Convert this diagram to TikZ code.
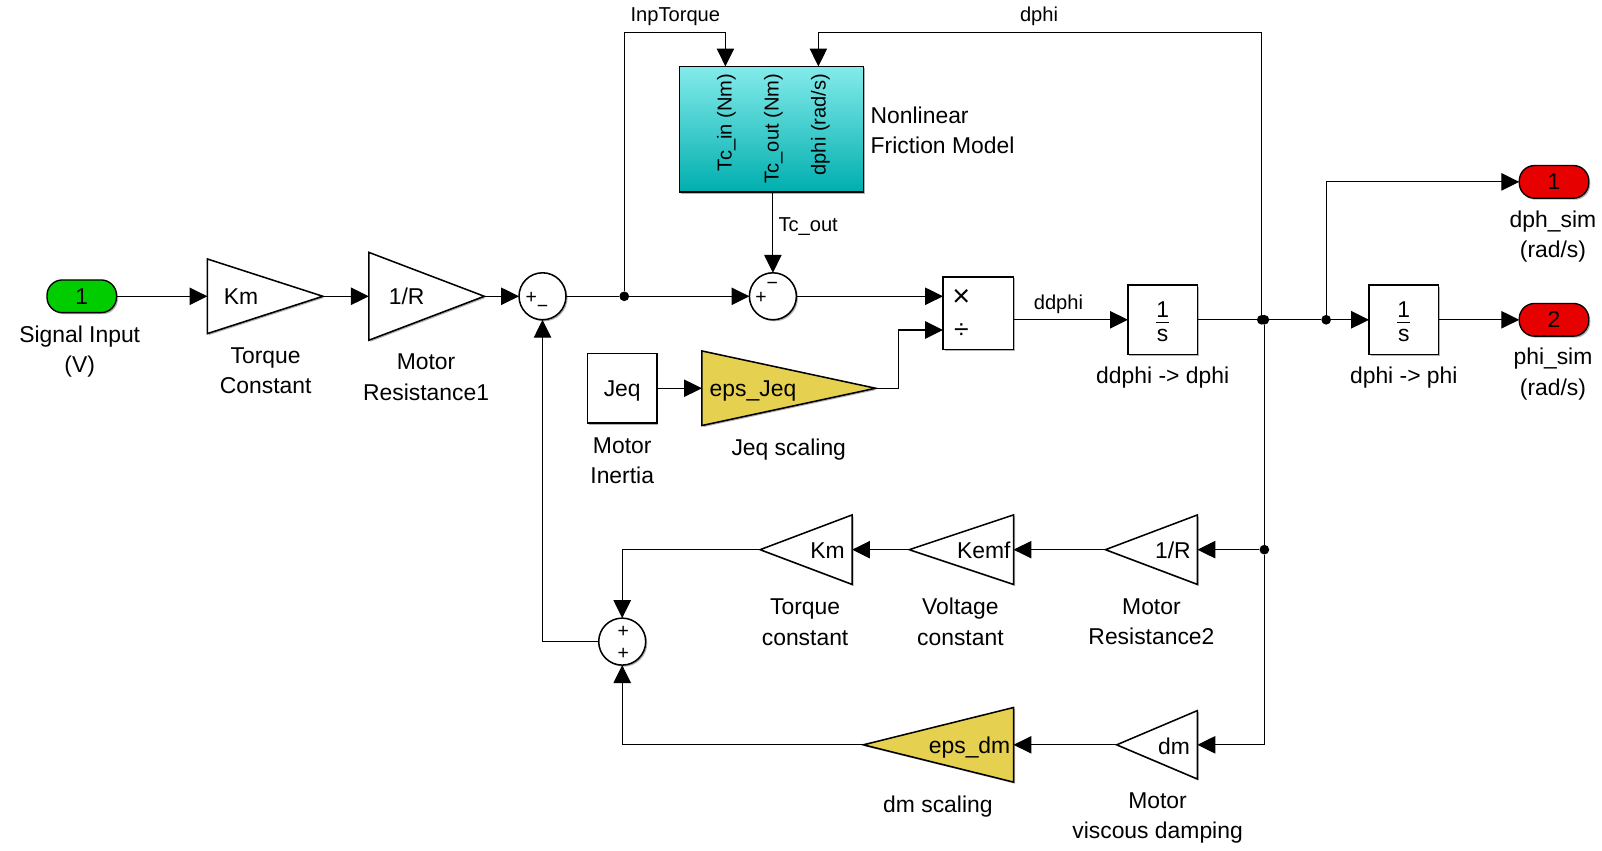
\documentclass[tikz,border=0pt]{standalone}
\usepackage{fontspec}
\setmainfont{Liberation Sans}
\usetikzlibrary{arrows.meta,shapes.geometric,shadows}

\definecolor{portgreen}{RGB}{0,204,0}
\definecolor{portred}{RGB}{230,0,0}
\definecolor{scalegold}{RGB}{229,208,80}
\definecolor{fricttop}{RGB}{132,235,235}
\definecolor{frictbot}{RGB}{0,174,174}

\newcommand{\oneOverS}{$\displaystyle\frac{\mbox{\fontsize{22.4}{26}\selectfont 1\rule[-3pt]{0pt}{23pt}}}{\mbox{\fontsize{22.4}{26}\selectfont\rule{0pt}{18pt}s\rule[-1pt]{0pt}{1pt}}}$}

\tikzset{
  blockshadow/.style={drop shadow={shadow xshift=1.5pt,shadow yshift=-1.5pt,opacity=0.3,fill=black}},
  block/.style={draw,fill=white,line width=1.5pt,minimum width=68pt,minimum height=68pt,
    inner sep=0pt,outer sep=0pt,blockshadow},
  port/.style={draw,line width=1.3pt,rounded corners=15pt,minimum width=68pt,minimum height=32pt,
    inner sep=0pt,outer sep=0pt,blockshadow,font=\fontsize{22.4}{26}\selectfont},
  gainbox/.style={draw,fill=white,line width=1.5pt,isosceles triangle,isosceles triangle stretches,
    inner sep=0pt,outer sep=0pt,blockshadow},
  sumbox/.style={draw,fill=white,circle,line width=1.5pt,minimum size=46pt,inner sep=0pt,
    outer sep=0pt,blockshadow},
  jct/.style={circle,fill=black,inner sep=0pt,minimum size=9.5pt},
  sig/.style={line width=1.1pt,-{Triangle[length=17.5pt,width=17pt]}},
  wire/.style={line width=1.1pt},
  blocktext/.style={font=\fontsize{22.4}{30}\selectfont,align=center,inner sep=0pt},
  sigtext/.style={font=\fontsize{19.7}{24}\selectfont,align=center,inner sep=0pt},
  signtext/.style={font=\fontsize{19}{19}\selectfont,inner sep=0pt},
}

\begin{document}
\begin{tikzpicture}[x=1pt,y=-1pt]
  \useasboundingbox (0,0) rectangle (1568,832);

  % forward path
  \node [port,fill=portgreen] (portIn) at (80,290) {1};
  \node [gainbox,minimum height=113pt,minimum width=73pt,anchor=apex] (gainKm) at (316,290) {};
  \node [gainbox,minimum height=113pt,minimum width=86pt,anchor=apex] (gainR) at (474,290) {};
  \node [sumbox] (sumA) at (531,290) {};
  \node [jct] (jctA) at (611,290) {};
  \node [sumbox] (sumB) at (756.5,290) {};
  \node [block,minimum width=69pt,minimum height=71pt] (mulBlock) at (957.5,306.5) {};
  \node [block] (intA) at (1138,313) {\oneOverS};
  \node [block] (intB) at (1374,313) {\oneOverS};
  \node [port,fill=portred] (portA) at (1521,178) {1};
  \node [port,fill=portred] (portB) at (1521,313) {2};

  % friction block
  \node [draw,line width=1.5pt,top color=fricttop,bottom color=frictbot,minimum width=180pt,
    minimum height=123pt,inner sep=0pt,outer sep=0pt,blockshadow] (friction) at (755,126.5) {};
  \node [sigtext,rotate=90,anchor=east] (frLabelA) at (711,72) {Tc\_in (Nm)};
  \node [sigtext,rotate=90,anchor=east] (frLabelB) at (757,72) {Tc\_out (Nm)};
  \node [sigtext,rotate=90,anchor=east] (frLabelC) at (803,72) {dphi (rad/s)};

  % inertia path
  \node [block,text height=21pt,text depth=5pt] (jeqBlock) at (609,380) {\fontsize{22.4}{26}\selectfont Jeq};
  \node [gainbox,fill=scalegold,minimum height=170pt,minimum width=73pt,anchor=apex] (gainJeq) at (857,380) {};

  % feedback paths
  \node [jct] (jctB) at (1235,313) {};
  \node [jct] (jctBB) at (1237.5,313) {};
  \node [jct] (jctC) at (1298,313) {};
  \node [jct] (jctD) at (1237.5,538) {};
  \node [gainbox,shape border rotate=180,minimum height=90pt,minimum width=68pt,anchor=apex] (gainR2) at (1082,538) {};
  \node [gainbox,shape border rotate=180,minimum height=102pt,minimum width=68pt,anchor=apex] (gainEmf) at (890,538) {};
  \node [gainbox,shape border rotate=180,minimum height=90pt,minimum width=68pt,anchor=apex] (gainKm2) at (744,538) {};
  \node [gainbox,shape border rotate=180,minimum height=79pt,minimum width=67pt,anchor=apex] (gainDm) at (1093,729) {};
  \node [gainbox,shape border rotate=180,fill=scalegold,minimum height=147pt,minimum width=73pt,anchor=apex] (gainEps) at (845,729) {};
  \node [sumbox] (sumC) at (609,628) {};

  \coordinate (cornerA) at (611,32);
  \coordinate (frIn) at (710,65);
  \coordinate (frDphi) at (801,65);
  \coordinate (frOut) at (756.5,188);
  \coordinate (cornerB) at (1235,32);
  \coordinate (cornerC) at (1237.5,729);
  \coordinate (cornerD) at (531,628);
  \coordinate (mulInA) at (923,290);
  \coordinate (mulInB) at (923,323);
  \coordinate (mulOut) at (992,313);

  % connectors
  \draw [sig] (portIn) -- (gainKm.lower side);
  \draw [sig] (gainKm.apex) -- (gainR.lower side);
  \draw [sig] (gainR.apex) -- (sumA.west);
  \draw [wire] (sumA.east) -- (jctA);
  \draw [sig] (jctA) -- (sumB.west);
  \draw [sig] (jctA) -- (cornerA) -| (frIn);
  \draw [sig] (frOut) -- (sumB.north);
  \draw [sig] (sumB.east) -- (mulInA);
  \draw [sig] (jeqBlock) -- (gainJeq.lower side);
  \draw [sig] (gainJeq.apex) -- (879,380) |- (mulInB);
  \draw [sig] (mulOut) -- (intA.west);
  \draw [wire] (intA.east) -- (jctB);
  \draw [wire] (jctB) -- (jctC);
  \draw [sig] (jctC) -- (intB.west);
  \draw [sig] (intB.east) -- (portB.west);
  \draw [sig] (jctC) |- (portA.west);
  \draw [sig] (jctB) -- (cornerB) -| (frDphi);
  \draw [wire] (jctBB) -- (jctD);
  \draw [wire] (jctD) -- (cornerC);
  \draw [sig] (jctD) -- (gainR2.lower side);
  \draw [sig] (cornerC) -- (gainDm.lower side);
  \draw [sig] (gainR2.apex) -- (gainEmf.lower side);
  \draw [sig] (gainEmf.apex) -- (gainKm2.lower side);
  \draw [sig] (gainKm2.apex) -| (sumC.north);
  \draw [sig] (gainDm.apex) -- (gainEps.lower side);
  \draw [sig] (gainEps.apex) -| (sumC.south);
  \draw [sig] (sumC.west) -- (cornerD) -- (sumA.south);

  % texts in the gains
  \node [blocktext] (textKm) at (236,290.5) {Km};
  \node [blocktext] (textR) at (398,290.5) {1/R};
  \node [blocktext] (textJeq) at (737,383) {eps\_Jeq};
  \node [blocktext] (textR2) at (1148,538.5) {1/R};
  \node [blocktext] (textEmf) at (963,538.5) {Kemf};
  \node [blocktext] (textKm2) at (810,538.5) {Km};
  \node [blocktext] (textDm) at (1149,730) {dm};
  \node [blocktext] (textEps) at (949,731.5) {eps\_dm};

  % signs
  \node [signtext] (signA) at (520,291.5) {+};
  \node [signtext] (signB) at (531,302) {−};
  \node [signtext] (signC) at (745,291.5) {+};
  \node [signtext] (signD) at (756,280) {−};
  \node [signtext] (signE) at (610,618) {+};
  \node [signtext] (signF) at (610,640) {+};
  \node [inner sep=0pt,font=\fontsize{30}{30}\selectfont] (signMul) at (941,292) {×};
  \node [inner sep=0pt,font=\fontsize{26}{26}\selectfont] (signDiv) at (941,324) {÷};

  % block names
  \node [blocktext] (nameIn) at (78,344) {Signal Input\\(V)};
  \node [blocktext] (nameKm) at (260,363) {Torque\\Constant};
  \node [blocktext] (nameR) at (417,369.5) {Motor\\Resistance1};
  \node [blocktext,align=left,anchor=west] (nameFr) at (852,127.5) {Nonlinear\\Friction Model};
  \node [blocktext] (nameJ) at (609,451) {Motor\\Inertia};
  \node [blocktext] (nameJeq) at (772,440) {Jeq scaling};
  \node [blocktext] (nameIntA) at (1138,370) {ddphi -> dphi};
  \node [blocktext] (nameIntB) at (1374,370) {dphi -> phi};
  \node [blocktext] (namePortA) at (1520,231.5) {dph\_sim\\(rad/s)};
  \node [blocktext] (namePortB) at (1520,366) {phi\_sim\\(rad/s)};
  \node [blocktext] (nameKm2) at (788,609) {Torque\\constant};
  \node [blocktext] (nameEmf) at (940,608.5) {Voltage\\constant};
  \node [blocktext] (nameR2) at (1127,608.5) {Motor\\Resistance2};
  \node [blocktext] (nameEps) at (918,789) {dm scaling};
  \node [blocktext] (nameDm) at (1133,800.5) {Motor\\viscous damping};

  % signal names
  \node [sigtext] (sigTorque) at (661,16) {InpTorque};
  \node [sigtext] (sigDphi) at (1017,15.5) {dphi};
  \node [sigtext] (sigTc) at (791,222) {Tc\_out};
  \node [sigtext] (sigDd) at (1036,298) {ddphi};
\end{tikzpicture}
\end{document}
